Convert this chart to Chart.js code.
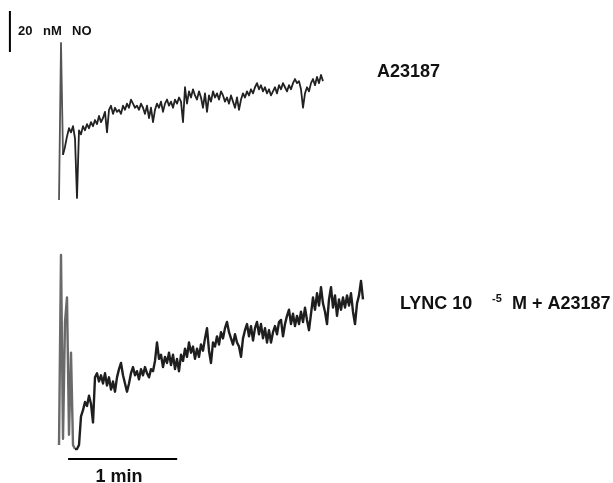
<!DOCTYPE html>
<html>
<head>
<meta charset="utf-8">
<title>NO release - A23187 / LYNC</title>
<script src="https://cdn.jsdelivr.net/npm/chart.js@4.4.0/dist/chart.umd.min.js"></script>
<style>
  html, body { margin: 0; padding: 0; background: #fff; }
  #wrap { width: 613px; height: 483px; }
</style>
</head>
<body>
<div id="wrap"><canvas id="no-chart" width="613" height="483"></canvas></div>
<script>
// Registos de NO (nM), uma amostra a cada 1.1 s

const dt = 1.1;   // s entre amostras
const t0 = -1.1;  // tempo da primeira amostra (s)

// A23187
const topNO = [
  0, 76.6, 22, 26, 31, 35, 33, 36, 30, 1,
  34, 32, 36, 34, 37, 35, 38, 36, 39, 37,
  41, 38, 40, 43, 33, 44, 46, 42, 45, 43,
  44, 42, 46, 44, 47, 45, 49, 47, 45, 46,
  44, 47, 45, 42, 46, 40, 45, 38, 44, 47,
  45, 48, 43, 47, 49, 46, 48, 45, 49, 47,
  50, 48, 38, 55, 47, 53, 50, 54, 51, 49,
  53, 50, 45, 52, 43, 51, 48, 53, 50, 52,
  49, 53, 51, 48, 50, 47, 51, 48, 45, 50,
  44, 49, 52, 50, 53, 51, 54, 52, 55, 57,
  54, 56, 53, 55, 52, 54, 51, 53, 55, 52,
  56, 54, 57, 55, 53, 56, 54, 57, 59, 57,
  58, 54, 45, 52, 55, 53, 57, 59, 56, 60,
  57, 61, 58
];

// LYNC 10^-5 M + A23187
const lyncNO = [
  0, 92.7, 3, 60, 72, 5, 45, 0, -2, -2,
  0, 14, 17, 21, 19, 24, 20, 11, 33, 35,
  31, 34, 30, 35, 29, 33, 27, 31, 26, 33,
  37, 40, 34, 30, 26, 30, 35, 38, 34, 36,
  32, 37, 34, 38, 35, 33, 37, 36, 41, 50,
  42, 44, 38, 43, 40, 45, 39, 44, 37, 42,
  36, 44, 41, 47, 43, 50, 45, 48, 42, 47,
  43, 49, 46, 52, 57, 46, 40, 50, 48, 53,
  49, 55, 52, 57, 60, 55, 52, 49, 54, 50,
  48, 43, 52, 56, 59, 53, 58, 51, 57, 60,
  54, 59, 52, 57, 50, 56, 50, 55, 58, 54,
  60, 61, 53, 59, 63, 66, 59, 64, 58, 63,
  59, 65, 60, 67, 61, 56, 64, 72, 66, 74,
  68, 77, 69, 65, 59, 71, 77, 67, 73, 63,
  71, 66, 72, 67, 73, 68, 74, 65, 59, 69,
  73, 80, 71
];

// barras de escala
const barNM = [72.2, 92.2];   // 20 nM (eixo do registo de cima)
const barNMTime = -28.1;
const barMin = [3.9, 63.9];   // 1 min (eixo do registo de baixo)
const barMinLevel = -6.8;

function toPoints(values) {
    return values.map((v, i) => ({ x: t0 + i * dt, y: v }));
}

const fontFamily = '"Liberation Sans", Arial, sans-serif';

const labelsPlugin = {
    id: 'traceLabels',
    afterDraw(chart) {
        const c = chart.ctx;
        c.save();
        c.fillStyle = '#111';
        c.textBaseline = 'alphabetic';
        c.font = 'bold 13px ' + fontFamily;
        c.fillText('20', 18, 35);
        c.fillText('nM', 43, 35);
        c.fillText('NO', 72, 35);

        c.font = 'bold 18px ' + fontFamily;
        c.fillText('A23187', 377, 77);
        c.fillText('LYNC 10', 400, 309);
        c.fillText('M + A23187', 512, 309);

        c.font = 'bold 11px ' + fontFamily;
        c.fillText('-5', 492, 302);

        c.font = 'bold 18px ' + fontFamily;
        c.textAlign = 'center';
        c.fillText('1 min', 119, 482);
        c.restore();
    }
};

const ctx = document.getElementById('no-chart');

const config = {
    type: 'line',
    data: {
        datasets: [{
            label: 'A23187',
            data: toPoints(topNO),
            yAxisID: 'yTop',
            borderColor: '#222',
            borderWidth: 1.8,
            segment: {
                // as espículas iniciais aparecem mais claras no registo
                borderColor: s => s.p0DataIndex < 2 ? '#555' : undefined
            }
        }, {
            label: 'LYNC 10-5 M + A23187',
            data: toPoints(lyncNO),
            yAxisID: 'yBottom',
            borderColor: '#1e1e1e',
            borderWidth: 2.4,
            segment: {
                borderColor: s => s.p0DataIndex < 8 ? '#6a6a6a' : undefined
            }
        }, {
            label: '20 nM NO',
            data: barNM.map(v => ({ x: barNMTime, y: v })),
            yAxisID: 'yTop',
            borderColor: '#000',
            borderWidth: 2
        }, {
            label: '1 min',
            data: barMin.map(t => ({ x: t, y: barMinLevel })),
            yAxisID: 'yBottom',
            borderColor: '#000',
            borderWidth: 2
        }]
    },
    options: {
        responsive: false,
        animation: false,
        devicePixelRatio: 1,
        layout: { padding: 0 },
        elements: {
            point: { radius: 0, hoverRadius: 0 },
            line: { tension: 0, borderJoinStyle: 'round', fill: false }
        },
        plugins: {
            legend: { display: false },
            tooltip: { enabled: false }
        },
        scales: {
            x: { type: 'linear', display: false, min: -33.55, max: 303.6 },
            yTop: { type: 'linear', display: false, min: -138.05, max: 97.56 },
            yBottom: { type: 'linear', display: false, min: -18.54, max: 217.07 }
        }
    },
    plugins: [labelsPlugin]
};

const noChart = new Chart(ctx, config);
</script>
</body>
</html>
